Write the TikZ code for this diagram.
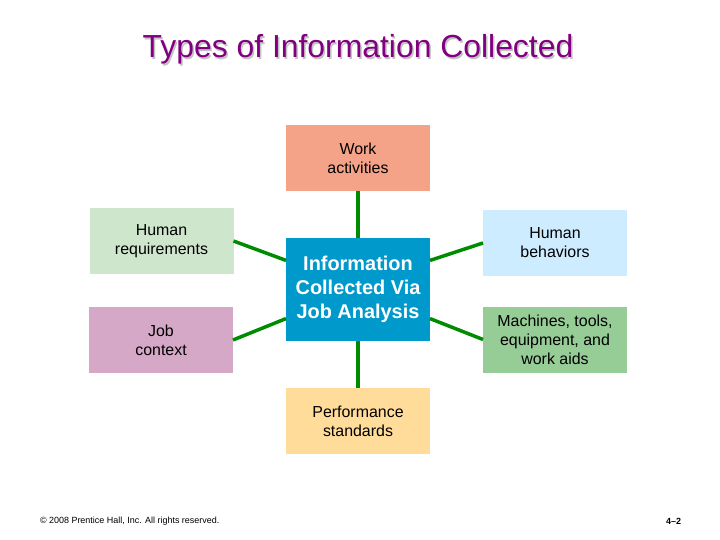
\documentclass[tikz,border=0pt]{standalone}
\usepackage{fontspec}
\setmainfont{Liberation Sans}
\begin{document}
\begin{tikzpicture}[x=1bp,y=-1bp,every node/.style={minimum width=144bp, minimum height=66bp, inner sep=0pt, outer sep=0pt, align=center, font=\fontsize{16}{19}\selectfont}]
\useasboundingbox[fill=white] (0,0) rectangle (720,540);
\node[minimum size=0pt,anchor=base,text={rgb,255:red,195;green,195;blue,195},font=\fontsize{32}{36}\selectfont] (titleshadow) at (359.5,59.5) {Types of Information Collected};
\node[minimum size=0pt,anchor=base,text={rgb,255:red,128;green,0;blue,128},font=\fontsize{32}{36}\selectfont] (title) at (358,58) {Types of Information Collected};
\node[fill={rgb,255:red,244;green,162;blue,136}] (work) at (358,158) {Work\\activities};
\node[fill={rgb,255:red,0;green,153;blue,204},minimum height=103bp,text=white,font=\fontsize{20}{24}\selectfont\bfseries] (info) at (358,289.5) {Information\\Collected Via\\Job Analysis};
\node[fill={rgb,255:red,206;green,230;blue,204}] (hreq) at (161.5,241) {Human\\requirements};
\node[fill={rgb,255:red,212;green,168;blue,198}] (jctx) at (161,340) {Job\\context};
\node[fill={rgb,255:red,206;green,236;blue,255}] (hbeh) at (555,243) {Human\\behaviors};
\node[fill={rgb,255:red,150;green,204;blue,150}] (mach) at (555,339.5) {Machines, tools,\\equipment, and\\work aids};
\node[fill={rgb,255:red,255;green,220;blue,154}] (perf) at (358,421) {Performance\\standards};
\draw[color={rgb,255:red,0;green,140;blue,0},line width=3.5bp] (work.south) -- (info.north);
\draw[color={rgb,255:red,0;green,140;blue,0},line width=3.5bp] (info.south) -- (perf.north);
\draw[color={rgb,255:red,0;green,140;blue,0},line width=3.5bp] (hreq.east) -- (info.158);
\draw[color={rgb,255:red,0;green,140;blue,0},line width=3.5bp] (jctx.east) -- (info.202);
\draw[color={rgb,255:red,0;green,140;blue,0},line width=3.5bp] (hbeh.west) -- (info.22);
\draw[color={rgb,255:red,0;green,140;blue,0},line width=3.5bp] (mach.west) -- (info.338);
\node[minimum size=0pt,anchor=west,font=\fontsize{9}{10}\selectfont] (copy) at (40,521) {© 2008 Prentice Hall, Inc. All rights reserved.};
\node[minimum size=0pt,anchor=east,font=\fontsize{9}{10}\selectfont\bfseries] (page) at (681,521) {4–2};
\end{tikzpicture}
\end{document}
